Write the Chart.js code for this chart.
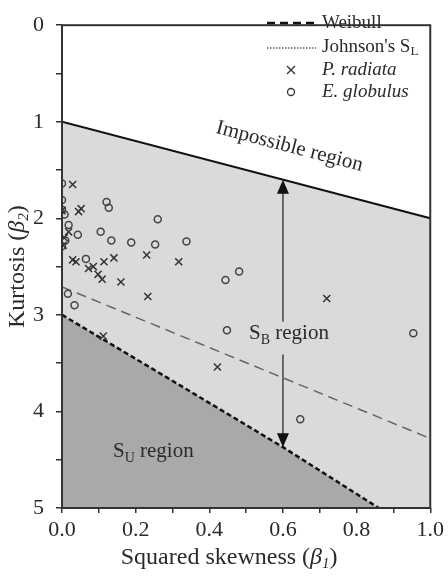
<!DOCTYPE html>
<html lang="en">
<head>
    <meta charset="UTF-8">
    <title>Kurtosis vs squared skewness</title>
    <script src="https://cdn.jsdelivr.net/npm/chart.js"></script>
    <style>
        body {
            margin: 0;
            background: #ffffff;
        }
        .chart-box {
            width: 448px;
            height: 576px;
        }
    </style>
</head>
<body>
    <div class="chart-box">
        <canvas id="momentChart"></canvas>
    </div>

    <script>
        // Boundary lines (beta1, beta2)
        const impossibleX = [0, 1];
        const impossibleY = [1, 2];
        const lognormalX = [0, 0.29, 0.6, 0.86];
        const lognormalY = [3, 3.66, 4.37, 5];
        const weibullX = [0, 1];
        const weibullY = [2.71, 4.28];

        // P. radiata samples
        const radiataB1 = [0.029, 0.045, 0.052, 0.0, 0.018, 0.006, 0.003, 0.029, 0.038, 0.072, 0.085,
            0.098, 0.109, 0.114, 0.141, 0.160, 0.230, 0.233, 0.317, 0.719, 0.112, 0.422];
        const radiataB2 = [1.65, 1.93, 1.90, 1.92, 2.14, 2.20, 2.28, 2.43, 2.45, 2.52, 2.50,
            2.58, 2.63, 2.45, 2.41, 2.66, 2.38, 2.81, 2.45, 2.83, 3.22, 3.54];

        // E. globulus samples
        const globulusB1 = [0.0, 0.0, 0.0, 0.007, 0.018, 0.121, 0.127, 0.043, 0.105, 0.134, 0.188, 0.009,
            0.0, 0.065, 0.016, 0.034, 0.26, 0.253, 0.338, 0.481, 0.444, 0.448, 0.954, 0.647];
        const globulusB2 = [1.64, 1.81, 1.91, 1.96, 2.07, 1.83, 1.89, 2.17, 2.14, 2.23, 2.25, 2.23,
            2.29, 2.42, 2.78, 2.90, 2.01, 2.27, 2.24, 2.55, 2.64, 3.16, 3.19, 4.08];

        const xTicks = [0, 0.2, 0.4, 0.6, 0.8, 1.0];
        const yTicks = [0, 1, 2, 3, 4, 5];

        const toPoints = (xs, ys) => xs.map((x, i) => ({ x: x, y: ys[i] }));

        const SERIF = '"Liberation Serif", "DejaVu Serif", serif';

        // draw a row of text pieces (for subscripts / italics), centred on x
        function drawRuns(ctx, x, y, runs) {
            let total = 0;
            runs.forEach(r => {
                ctx.font = r.font;
                total += ctx.measureText(r.t).width;
            });
            let cx = x - total / 2;
            ctx.textAlign = 'left';
            runs.forEach(r => {
                ctx.font = r.font;
                ctx.fillText(r.t, cx, y + (r.dy || 0));
                cx += ctx.measureText(r.t).width;
            });
        }

        const decorations = {
            id: 'decorations',
            afterDatasetsDraw(chart) {
                const ctx = chart.ctx;
                const xs = chart.scales.x;
                const ys = chart.scales.y;
                const area = chart.chartArea;
                ctx.save();
                ctx.fillStyle = '#2a2a2a';
                ctx.textBaseline = 'alphabetic';

                // double arrow at beta1 = 0.6
                const ax = xs.getPixelForValue(0.6);
                const aTop = ys.getPixelForValue(1.6);
                const aBot = ys.getPixelForValue(lognormalY[2]);
                ctx.strokeStyle = '#444';
                ctx.lineWidth = 1.5;
                ctx.beginPath();
                ctx.moveTo(ax, aTop + 12);
                ctx.lineTo(ax, ys.getPixelForValue(3.07));
                ctx.moveTo(ax, ys.getPixelForValue(3.41));
                ctx.lineTo(ax, aBot - 12);
                ctx.stroke();
                ctx.fillStyle = '#111';
                ctx.beginPath();
                ctx.moveTo(ax, aTop);
                ctx.lineTo(ax - 6, aTop + 14);
                ctx.lineTo(ax + 6, aTop + 14);
                ctx.closePath();
                ctx.fill();
                ctx.beginPath();
                ctx.moveTo(ax, aBot);
                ctx.lineTo(ax - 6, aBot - 14);
                ctx.lineTo(ax + 6, aBot - 14);
                ctx.closePath();
                ctx.fill();

                // region labels
                ctx.fillStyle = '#2a2a2a';
                drawRuns(ctx, ax + 6, ys.getPixelForValue(3.25), [
                    { t: 'S', font: '21px ' + SERIF },
                    { t: 'B', font: '14px ' + SERIF, dy: 5 },
                    { t: ' region', font: '21px ' + SERIF }
                ]);
                drawRuns(ctx, xs.getPixelForValue(0.248), ys.getPixelForValue(4.47), [
                    { t: 'S', font: '21px ' + SERIF },
                    { t: 'U', font: '14px ' + SERIF, dy: 5 },
                    { t: ' region', font: '21px ' + SERIF }
                ]);

                // rotated label along the impossible boundary
                const p0x = xs.getPixelForValue(0), p0y = ys.getPixelForValue(1);
                const p1x = xs.getPixelForValue(1), p1y = ys.getPixelForValue(2);
                const ang = Math.atan2(p1y - p0y, p1x - p0x);
                ctx.save();
                ctx.translate(288, 152);
                ctx.rotate(ang);
                ctx.font = '21px ' + SERIF;
                ctx.textAlign = 'center';
                ctx.fillText('Impossible region', 0, 0);
                ctx.restore();

                // frame
                ctx.strokeStyle = '#333';
                ctx.lineWidth = 2;
                ctx.strokeRect(area.left, area.top, area.right - area.left, area.bottom - area.top);
                ctx.restore();
            },
            afterDraw(chart) {
                const ctx = chart.ctx;
                const area = chart.chartArea;
                ctx.save();
                ctx.fillStyle = '#2a2a2a';
                ctx.textBaseline = 'middle';

                // legend
                const lx0 = 267, lx1 = 316, tx = 322;
                ctx.strokeStyle = '#111';
                ctx.lineWidth = 2.5;
                ctx.setLineDash([8, 5]);
                ctx.beginPath();
                ctx.moveTo(lx0, 23);
                ctx.lineTo(lx1, 23);
                ctx.stroke();
                ctx.lineWidth = 1.2;
                ctx.setLineDash([1.5, 1.5]);
                ctx.beginPath();
                ctx.moveTo(lx0, 48);
                ctx.lineTo(lx1, 48);
                ctx.stroke();
                ctx.setLineDash([]);
                ctx.strokeStyle = '#333';
                ctx.lineWidth = 1.3;
                ctx.beginPath();
                ctx.moveTo(287, 66); ctx.lineTo(295, 74);
                ctx.moveTo(295, 66); ctx.lineTo(287, 74);
                ctx.stroke();
                ctx.beginPath();
                ctx.arc(291, 92, 3.5, 0, Math.PI * 2);
                ctx.stroke();

                ctx.textAlign = 'left';
                ctx.font = '19px ' + SERIF;
                ctx.fillText('Weibull', tx, 23);
                ctx.fillText("Johnson's S", tx, 47);
                const jw = ctx.measureText("Johnson's S").width;
                ctx.font = '13px ' + SERIF;
                ctx.fillText('L', tx + jw, 52);
                ctx.font = 'italic 19px ' + SERIF;
                ctx.fillText('P. radiata', tx, 70);
                ctx.fillText('E. globulus', tx, 92);

                // axis titles
                ctx.textBaseline = 'alphabetic';
                drawRuns(ctx, (area.left + area.right) / 2 - 17, 564, [
                    { t: 'Squared skewness (', font: '24px ' + SERIF },
                    { t: '\u03B2', font: 'italic 24px ' + SERIF },
                    { t: '1', font: 'italic 15px ' + SERIF, dy: 4 },
                    { t: ')', font: '24px ' + SERIF }
                ]);
                ctx.save();
                ctx.translate(24, (area.top + area.bottom) / 2);
                ctx.rotate(-Math.PI / 2);
                drawRuns(ctx, 0, 0, [
                    { t: 'Kurtosis (', font: '24px ' + SERIF },
                    { t: '\u03B2', font: 'italic 24px ' + SERIF },
                    { t: '2', font: 'italic 15px ' + SERIF, dy: 4 },
                    { t: ')', font: '24px ' + SERIF }
                ]);
                ctx.restore();
                ctx.restore();
            }
        };

        const momentCtx = document.getElementById('momentChart').getContext('2d');
        const momentChart = new Chart(momentCtx, {
            type: 'scatter',
            data: {
                datasets: [
                    {
                        label: 'P. radiata',
                        data: toPoints(radiataB1, radiataB2),
                        pointStyle: 'crossRot',
                        pointRadius: 5,
                        borderColor: '#333',
                        borderWidth: 1.5,
                        backgroundColor: 'rgba(0,0,0,0)'
                    },
                    {
                        label: 'E. globulus',
                        data: toPoints(globulusB1, globulusB2),
                        pointStyle: 'circle',
                        pointRadius: 3.5,
                        borderColor: '#444',
                        borderWidth: 1.5,
                        backgroundColor: 'rgba(0,0,0,0)'
                    },
                    {
                        type: 'line',
                        label: 'Weibull',
                        data: toPoints(weibullX, weibullY),
                        borderColor: '#666',
                        borderWidth: 1.5,
                        borderDash: [10, 6],
                        pointRadius: 0,
                        fill: false
                    },
                    {
                        type: 'line',
                        label: "Johnson's SL",
                        data: toPoints(lognormalX, lognormalY),
                        borderColor: '#111',
                        borderWidth: 2.5,
                        borderDash: [5, 3],
                        pointRadius: 0,
                        tension: 0,
                        fill: { value: 5 },
                        backgroundColor: '#a9a9a9'
                    },
                    {
                        type: 'line',
                        label: 'Impossible',
                        data: toPoints(impossibleX, impossibleY),
                        borderColor: '#111',
                        borderWidth: 2,
                        pointRadius: 0,
                        fill: { value: 5 },
                        backgroundColor: '#dadada'
                    }
                ]
            },
            options: {
                responsive: true,
                maintainAspectRatio: false,
                animation: false,
                layout: {
                    padding: { top: 10, right: 14, left: 0, bottom: 0 }
                },
                plugins: {
                    legend: { display: false },
                    tooltip: { enabled: false },
                    filler: { drawTime: 'beforeDatasetsDraw' }
                },
                scales: {
                    x: {
                        type: 'linear',
                        min: 0,
                        max: 1,
                        afterFit: s => { s.height = 68; },
                        border: { display: false },
                        grid: {
                            drawOnChartArea: false,
                            tickLength: 5,
                            color: '#333',
                            lineWidth: 1.5
                        },
                        ticks: {
                            stepSize: 0.1,
                            autoSkip: false,
                            maxRotation: 0,
                            padding: 4,
                            color: '#2a2a2a',
                            font: { family: SERIF, size: 22 },
                            callback: v => xTicks.some(t => Math.abs(t - v) < 1e-6) ? v.toFixed(1) : ''
                        }
                    },
                    y: {
                        type: 'linear',
                        min: 0,
                        max: 5,
                        reverse: true,
                        afterFit: s => { s.width = 62; },
                        border: { display: false },
                        grid: {
                            drawOnChartArea: false,
                            tickLength: 6,
                            color: '#333',
                            lineWidth: 1.5
                        },
                        ticks: {
                            stepSize: 0.5,
                            autoSkip: false,
                            padding: 12,
                            color: '#2a2a2a',
                            font: { family: SERIF, size: 22 },
                            callback: v => yTicks.includes(v) ? String(v) : ''
                        }
                    }
                }
            },
            plugins: [decorations]
        });
    </script>
</body>
</html>
